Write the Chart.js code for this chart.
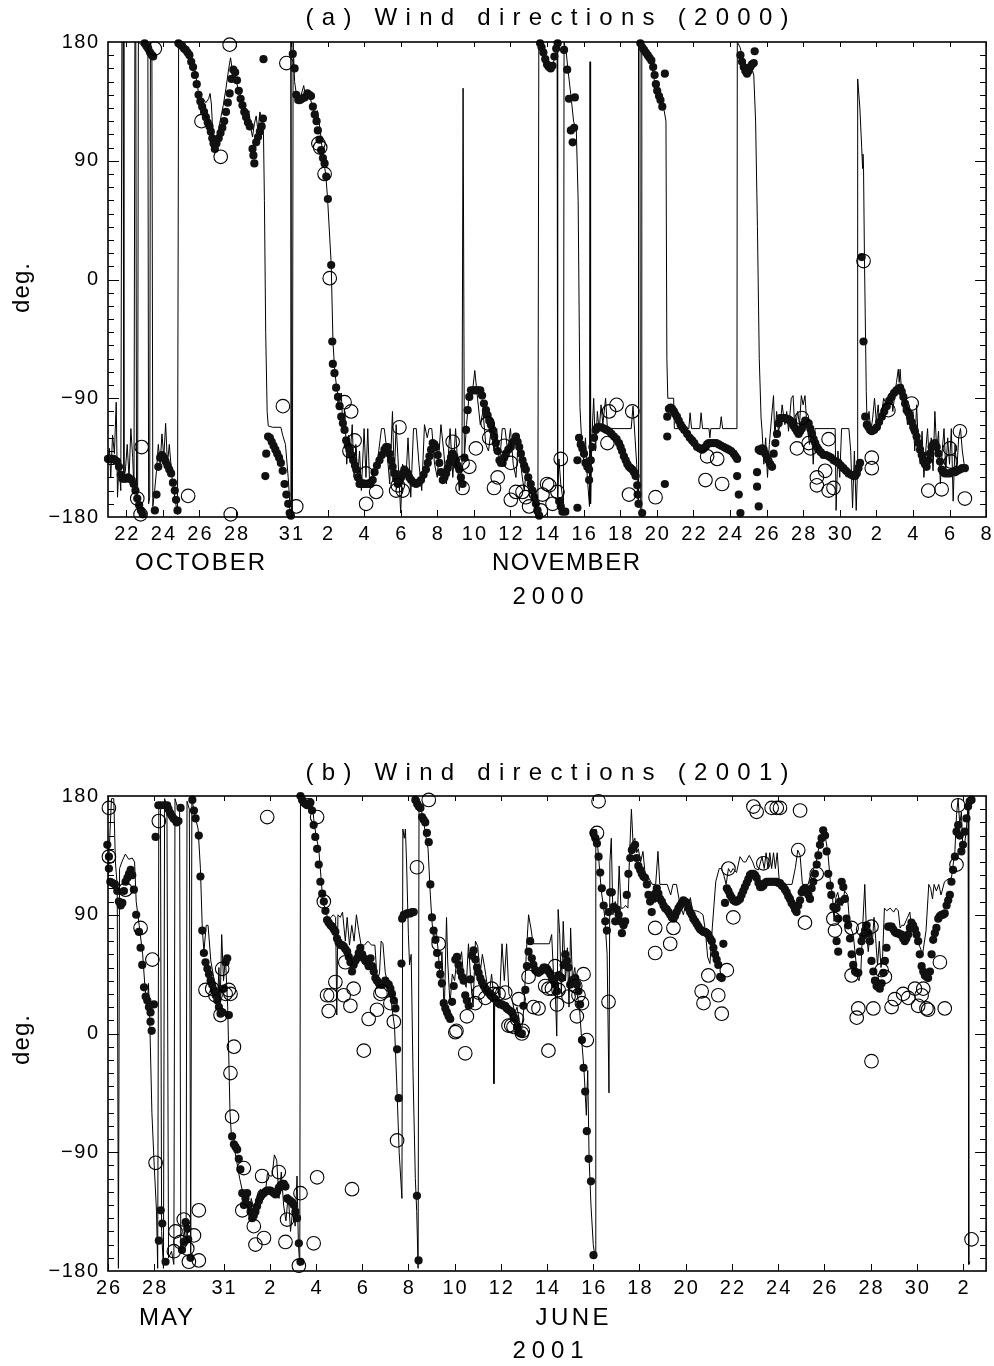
<!DOCTYPE html>
<html>
<head>
<meta charset="utf-8">
<title>Wind directions</title>
<script src="https://cdn.jsdelivr.net/npm/chart.js@4.4.0/dist/chart.umd.min.js"></script>
<style>
    html, body { margin: 0; padding: 0; background: #fff; overflow: hidden; }
    .panel { position: absolute; left: 0; width: 994px; height: 683px; }
</style>
</head>
<body>
<div class="panel" style="top:0"><canvas id="chartA"></canvas></div>
<div class="panel" style="top:683px"><canvas id="chartB"></canvas></div>
<script>
// x values are day numbers counted from the 1st of the first month shown
// (panel a: Oct 1 = 1, so Nov 2 = 33, Dec 2 = 63; panel b: May 1 = 1, June 2 = 33, July 2 = 63)
const yTicks = [-180, -90, 0, 90, 180];

const ticksA = [22, 24, 26, 28, 31, 33, 35, 37, 39, 41, 43, 45, 47, 49, 51, 53, 55, 57, 59, 61, 63, 65, 67, 69];
const tickLabelsA = ['22', '24', '26', '28', '31', '2', '4', '6', '8', '10', '12', '14', '16', '18', '20', '22', '24', '26', '28', '30', '2', '4', '6', '8'];

const ticksB = [26, 28, 31, 33, 35, 37, 39, 41, 43, 45, 47, 49, 51, 53, 55, 57, 59, 61, 63];
const tickLabelsB = ['26', '28', '31', '2', '4', '6', '8', '10', '12', '14', '16', '18', '20', '22', '24', '26', '28', '30', '2'];

// (a) 2000 : thin line
const lineA = [
    [21.0,-140],[21.08,-128],[21.15,-150],[21.25,-118],[21.35,-132],[21.45,-93],[21.52,-165],[21.6,-140],[21.7,-160],[21.76,180],[21.82,180],[21.87,-150],
    [21.95,-145],[22.05,-125],[22.15,-150],[22.25,-113],[22.35,-135],[22.42,-160],[22.47,180],[22.52,180],[22.56,-165],[22.62,-172],[22.66,180],[22.8,178],
    [22.95,176],[23.1,172],[23.18,170],[23.22,-170],[23.28,-165],[23.32,180],[23.4,172],[23.45,-172],[23.55,-160],[23.65,-145],[23.75,-125],[23.85,-140],
    [23.95,-117],[24.05,-135],[24.15,-109],[24.25,-140],[24.35,-125],[24.5,-150],[24.65,-165],[24.8,-178],[24.86,180],[25.0,178],[25.2,176],[25.35,173],
    [25.5,165],[25.6,159],[25.7,164],[25.85,150],[26.0,137],[26.2,137],[26.35,134],[26.5,137],[26.58,141],[26.65,133],[26.75,105],[26.85,100],[26.95,105],
    [27.1,118],[27.3,132],[27.45,145],[27.6,160],[27.7,168],[27.8,158],[27.95,155],[28.1,145],[28.25,140],[28.4,125],[28.5,132],[28.6,118],[28.7,128],
    [28.8,115],[28.9,108],[29.0,118],[29.1,124],[29.2,112],[29.3,127],[29.42,122],[29.5,110],[29.55,60],[29.62,-40],[29.7,-100],[29.76,-111],[30.0,-112],
    [30.45,-112],[30.55,-118],[30.7,-125],[30.85,-150],[30.95,-172],[31.0,180],[31.03,-176],[31.08,-178],[31.12,180],[31.2,150],[31.3,140],[31.5,137],
    [31.7,147],[31.8,138],[31.9,142],[32.0,140],[32.2,130],[32.3,126],[32.45,128],[32.6,113],[32.75,93],[32.9,80],[33.0,62],[33.2,12],[33.3,-48],[33.4,-70],
    [33.5,-82],[33.65,-95],[33.75,-86],[33.85,-115],[33.95,-100],[34.05,-140],[34.15,-118],[34.25,-130],[34.35,-110],[34.45,-150],[34.55,-125],[34.65,-150],
    [34.75,-130],[34.85,-160],[35.0,-113],[35.1,-150],[35.2,-113],[35.3,-155],[35.5,-150],[35.7,-140],[35.8,-130],[35.95,-113],[36.1,-113],[36.25,-130],
    [36.4,-155],[36.55,-100],[36.65,-150],[36.75,-110],[36.85,-135],[37.0,-177],[37.1,-140],[37.3,-147],[37.4,-120],[37.55,-165],[37.7,-113],[37.85,-113],
    [38.0,-140],[38.15,-160],[38.3,-110],[38.45,-120],[38.55,-113],[38.7,-113],[38.85,-140],[39.0,-150],[39.2,-110],[39.35,-130],[39.5,-155],[39.7,-113],
    [39.85,-150],[40.0,-113],[40.2,-160],[40.35,-140],[40.41,145],[40.44,145],[40.48,-135],[40.6,-110],[40.75,-86],[40.9,-88],[41.05,-69],[41.2,-90],
    [41.35,-110],[41.5,-100],[41.65,-125],[41.8,-130],[41.95,-113],[42.1,-130],[42.25,-113],[42.4,-140],[42.55,-113],[42.7,-113],[42.85,-130],[43.0,-113],
    [43.15,-140],[43.3,-150],[43.45,-118],[43.6,-145],[43.75,-160],[43.9,-140],[44.05,-165],[44.2,-165],[44.35,-170],[44.5,-175],[44.55,180],[44.65,176],
    [44.75,170],[44.9,160],[45.1,160],[45.3,160],[45.45,172],[45.55,178],[45.58,-165],[45.65,-136],[45.75,-155],[45.85,-165],[45.9,-172],[45.93,180],
    [46.05,172],[46.15,158],[46.3,140],[46.45,120],[46.6,113],[46.7,60],[46.8,-97],[46.9,-125],[47.0,-137],[47.1,-120],[47.2,-150],[47.32,-172],[47.35,165],
    [47.38,-170],[47.45,-120],[47.55,-90],[47.65,-130],[47.75,-100],[47.85,-115],[47.95,-95],[48.05,-110],[48.2,-90],[48.3,-113],[49.6,-113],[49.7,-96],
    [49.8,-118],[49.9,-140],[49.98,-170],[50.0,180],[50.08,178],[50.1,-178],[50.15,-176],[50.18,180],[50.3,174],[50.5,170],[50.7,164],[50.85,152],[51.0,143],
    [51.2,135],[51.4,128],[51.5,120],[51.55,-60],[51.6,-90],[51.92,-90],[51.96,-113],[52.75,-113],[52.82,-101],[52.9,-113],[53.35,-113],[53.42,-101],
    [53.5,-113],[53.85,-113],[53.9,-120],[53.95,-113],[54.45,-113],[54.52,-104],[54.6,-113],[55.38,-113],[55.4,180],[55.55,176],[55.7,168],[55.85,163],
    [56.0,162],[56.2,160],[56.3,155],[56.4,120],[56.5,40],[56.6,-60],[56.7,-105],[56.75,-114],[56.85,-140],[56.95,-120],[57.05,-150],[57.15,-125],[57.3,-100],
    [57.38,-88],[57.45,-120],[57.55,-100],[57.65,-115],[57.75,-110],[57.85,-95],[58.0,-110],[58.1,-100],[58.2,-115],[58.35,-90],[58.45,-88],[58.55,-115],
    [58.7,-100],[58.8,-110],[58.9,-88],[59.0,-95],[59.1,-88],[59.2,-110],[59.35,-125],[59.45,-110],[59.55,-140],[59.65,-113],[60.75,-113],[60.8,-175],
    [60.9,-130],[61.0,-150],[61.1,-113],[61.5,-113],[61.6,-130],[61.7,-173],[61.8,-130],[61.9,-175],[61.96,-150],[61.98,152],[62.1,130],[62.2,100],
    [62.25,84],[62.27,95],[62.3,84],[62.35,17],[62.45,-85],[62.5,-113],[62.6,-100],[62.7,-115],[62.8,-105],[62.9,-90],[63.0,-108],[63.1,-95],[63.2,-113],
    [63.3,-100],[63.4,-90],[63.55,-95],[63.65,-88],[63.8,-85],[63.9,-100],[64.0,-88],[64.1,-78],[64.2,-68],[64.25,-78],[64.3,-68],[64.4,-90],[64.5,-100],
    [64.6,-95],[64.7,-110],[64.8,-95],[64.9,-115],[65.0,-100],[65.1,-130],[65.2,-95],[65.3,-125],[65.4,-140],[65.5,-115],[65.6,-150],[65.7,-130],[65.8,-113],
    [65.9,-140],[66.0,-120],[66.1,-145],[66.2,-100],[66.3,-130],[66.4,-115],[66.5,-155],[66.6,-130],[66.7,-113],[66.8,-145],[66.9,-120],[67.0,-140],
    [67.1,-113],[67.2,-168],[67.3,-125],[67.4,-145],[67.5,-120],[67.6,-113],[67.7,-130],[67.8,-140]
];

// (a) 2000 : filled dots
const dotsA = [
    [21.0,-136],[21.1,-136],[21.2,-136],[21.3,-136],[21.4,-137],[21.5,-138],[21.6,-142],[21.7,-148],[21.8,-151],[21.9,-151],[22.0,-151],[22.1,-150],
    [22.2,-151],[22.3,-152],[22.4,-155],[22.5,-160],[22.6,-166],[22.7,-171],[22.8,-175],[22.9,-178],
    [23.0,179],[23.1,177],[23.2,175],[23.3,172],[23.4,170],[23.47,169],
    [23.56,-175],[23.65,-163],[23.75,-142],[23.85,-135],[23.95,-133],[24.05,-135],[24.15,-138],[24.25,-141],[24.35,-144],[24.45,-147],[24.55,-154],
    [24.65,-160],[24.72,-167],[24.8,-175],
    [24.85,179],[24.95,178],[25.05,177],[25.15,175],[25.25,174],[25.35,172],[25.45,170],[25.55,165],[25.65,161],[25.75,155],[25.85,148],[25.95,140],
    [26.05,135],[26.15,131],[26.25,127],[26.35,123],[26.45,119],[26.55,116],[26.62,112],[26.7,107],[26.77,103],[26.84,99],[26.93,103],[27.05,107],
    [27.15,111],[27.25,115],[27.35,120],[27.45,127],[27.55,134],[27.65,141],[27.75,152],[27.85,159],[27.95,157],[28.05,151],[28.15,143],[28.25,137],
    [28.35,132],[28.45,127],[28.55,123],[28.65,119],[28.75,116],[28.9,99],[28.95,94],[29.0,88],[29.1,104],[29.2,108],[29.3,112],[29.4,116],[29.47,122],
    [29.5,167],
    [29.6,-149],[29.65,-132],[29.75,-119],[29.85,-120],[29.95,-123],[30.05,-126],[30.15,-129],[30.25,-132],[30.35,-135],[30.45,-139],[30.55,-145],
    [30.65,-155],[30.75,-163],[30.85,-170],[30.93,-177],[31.0,-179],
    [31.1,171],[31.2,160],[31.29,140],[31.4,136],[31.5,136],[31.6,137],[31.75,138],[31.9,141],[32.0,140],[32.1,139],[32.2,131],[32.3,125],[32.4,120],
    [32.47,113],[32.56,106],[32.65,98],[32.75,92],[32.84,88],[32.93,78],[33.02,61],[33.2,11],[33.26,-47],[33.29,-64],[33.38,-71],[33.47,-82],[33.57,-89],
    [33.66,-96],[33.75,-104],[33.84,-109],[33.93,-114],[34.02,-122],[34.11,-126],[34.2,-129],[34.3,-133],[34.4,-137],[34.5,-141],[34.57,-144],[34.66,-150],
    [34.75,-155],[34.85,-155],[34.95,-155],[35.05,-155],[35.15,-155],[35.25,-155],[35.35,-155],[35.47,-152],[35.57,-146],[35.7,-141],[35.84,-137],
    [35.97,-133],[36.11,-129],[36.2,-127],[36.29,-127],[36.38,-132],[36.47,-137],[36.56,-142],[36.66,-147],[36.75,-151],[36.84,-155],[36.93,-153],
    [37.02,-150],[37.11,-147],[37.2,-144],[37.3,-146],[37.38,-147],[37.47,-150],[37.57,-152],[37.7,-154],[37.84,-155],[37.97,-154],[38.11,-152],
    [38.25,-148],[38.38,-144],[38.48,-139],[38.57,-134],[38.66,-129],[38.75,-124],[38.84,-125],[38.93,-127],[39.02,-133],[39.11,-139],[39.2,-146],
    [39.3,-152],[39.39,-150],[39.48,-147],[39.57,-143],[39.66,-139],[39.75,-135],[39.84,-132],[39.93,-134],[40.02,-137],[40.11,-141],[40.2,-144],
    [40.29,-150],[40.38,-155],[40.48,-135],[40.57,-114],[40.66,-99],[40.75,-89],[40.84,-84],[40.95,-84],[41.05,-84],[41.15,-84],[41.25,-84],[41.35,-84],
    [41.45,-88],[41.55,-94],[41.66,-99],[41.75,-103],[41.84,-107],[41.93,-110],[42.02,-114],[42.11,-119],[42.2,-124],[42.3,-130],[42.4,-137],[42.48,-139],
    [42.57,-139],[42.66,-135],[42.75,-132],[42.88,-129],[43.02,-127],[43.15,-123],[43.3,-119],[43.39,-123],[43.48,-127],[43.57,-132],[43.66,-137],
    [43.75,-141],[43.84,-144],[43.97,-150],[44.11,-155],[44.2,-160],[44.3,-165],[44.39,-170],[44.48,-175],[44.57,-179],
    [44.62,179],[44.7,176],[44.8,172],[44.9,167],[45.0,163],[45.1,161],[45.2,160],[45.3,162],[45.4,169],[45.5,175],[45.58,179],
    [45.66,-168],[45.75,-172],[45.84,-176],[46.0,-176],
    [45.93,174],[46.1,159],[46.2,137],[46.3,113],[46.4,104],[46.48,115],[46.52,138],
    [46.66,-173],[46.66,-137],[46.75,-120],[46.84,-125],[46.93,-128],[47.02,-132],[47.1,-139],[47.2,-142],[47.3,-144],[47.3,-152],[47.39,-137],[47.48,-127],
    [47.57,-120],[47.66,-114],[47.75,-112],[47.84,-112],[47.97,-112],[48.11,-113],[48.25,-114],[48.39,-115],[48.52,-117],[48.66,-119],[48.8,-121],
    [48.93,-124],[49.02,-127],[49.1,-130],[49.2,-134],[49.3,-137],[49.39,-140],[49.48,-142],[49.57,-143],[49.66,-144],[49.75,-146],[49.84,-149],
    [49.93,-156],[49.95,-163],[50.0,-170],[50.2,-177],
    [50.1,179],[50.2,176],[50.3,174],[50.4,172],[50.5,170],[50.6,168],[50.7,166],[50.8,161],[50.88,155],[50.95,148],[51.02,143],[51.12,139],[51.2,136],
    [51.3,131],[51.44,156],
    [51.44,-155],[51.57,-119],[51.57,-104],[51.66,-98],[51.75,-97],[51.84,-98],[51.93,-100],[52.0,-102],[52.1,-104],[52.2,-107],[52.3,-110],[52.39,-112],
    [52.5,-114],[52.66,-117],[52.8,-120],[52.93,-122],[53.05,-124],[53.2,-127],[53.35,-128],[53.48,-129],[53.57,-128],[53.66,-127],[53.75,-125],
    [53.84,-124],[53.97,-124],[54.11,-124],[54.25,-124],[54.39,-125],[54.52,-126],[54.66,-127],[54.8,-128],[54.93,-129],[55.06,-130],[55.2,-132],
    [55.3,-134],[55.39,-136],[55.39,-149],[55.48,-163],[55.57,-177],
    [55.57,170],[55.66,165],[55.75,161],[55.84,158],[55.93,156],[56.02,158],[56.11,161],[56.2,163],[56.3,164],[56.35,173],
    [56.48,-146],[56.48,-157],[56.57,-172],[56.57,-129],[56.66,-130],[56.75,-128],[56.84,-129],[56.93,-132],[57.02,-135],[57.1,-137],[57.2,-140],
    [57.3,-142],[57.39,-132],[57.48,-124],[57.57,-117],[57.66,-109],[57.75,-105],[57.84,-105],[57.93,-105],[58.02,-105],[58.11,-106],[58.2,-106],
    [58.3,-107],[58.39,-109],[58.48,-111],[58.57,-113],[58.66,-115],[58.75,-117],[58.84,-115],[58.93,-113],[59.02,-110],[59.11,-107],[59.2,-108],
    [59.3,-109],[59.39,-113],[59.48,-117],[59.57,-121],[59.66,-124],[59.75,-127],[59.84,-129],[59.97,-131],[60.11,-133],[60.25,-133],[60.39,-134],
    [60.52,-135],[60.66,-137],[60.8,-138],[60.93,-139],[61.06,-141],[61.2,-143],[61.34,-145],[61.48,-147],[61.62,-148],[61.75,-149],[61.84,-149],
    [61.93,-147],[62.02,-143],[62.11,-139],
    [62.2,17],[62.3,-47],[62.39,-104],[62.48,-110],[62.57,-112],[62.66,-114],[62.75,-115],[62.88,-114],[63.02,-112],[63.15,-108],[63.3,-104],[63.43,-100],
    [63.57,-96],[63.7,-92],[63.84,-89],[63.97,-86],[64.1,-84],[64.2,-83],[64.3,-82],[64.39,-85],[64.48,-89],[64.57,-94],[64.66,-99],[64.75,-101],
    [64.84,-104],[64.93,-108],[65.02,-112],[65.11,-115],[65.2,-119],[65.3,-124],[65.39,-129],[65.48,-133],[65.57,-137],[65.66,-140],[65.75,-142],
    [65.84,-137],[65.93,-132],[66.02,-127],[66.11,-125],[66.2,-124],[66.3,-127],[66.39,-132],[66.48,-138],[66.57,-144],[66.66,-146],[66.75,-147],
    [66.88,-147],[67.02,-147],[67.16,-146],[67.3,-146],[67.43,-145],[67.57,-144],[67.7,-143],[67.84,-143]
];

// (a) 2000 : open circles
const circlesA = [
    [22.6,-166],[22.78,-178],[22.84,-127],[23.56,175],[25.38,-164],[26.11,120],[27.16,93],[27.65,178],[27.71,-178],[30.56,-96],[30.75,164],[31.29,-172],
    [32.5,103],[32.6,100],[32.84,80],[33.12,1],[33.93,-93],[34.29,-100],[34.48,-122],[34.2,-130],[35.1,-147],[35.11,-170],[35.66,-161],[36.75,-160],
    [36.84,-156],[36.93,-112],[37.11,-160],[39.84,-123],[40.38,-139],[40.38,-158],[40.75,-142],[41.11,-128],[41.75,-109],[41.84,-120],[42.1,-158],
    [42.3,-150],[42.66,-126],[43.02,-139],[43.02,-167],[43.3,-161],[43.66,-161],[43.84,-165],[44.02,-172],[44.66,-175],[44.75,-163],[45.0,-155],
    [45.12,-156],[45.3,-170],[45.57,-161],[45.75,-136],[48.3,-124],[48.39,-100],[48.8,-95],[49.48,-163],[49.66,-100],[50.93,-165],[53.66,-152],
    [53.75,-134],[54.3,-136],[54.57,-155],[58.66,-128],[58.93,-105],[59.3,-124],[59.4,-128],[59.75,-150],[59.75,-156],[60.2,-145],[60.39,-160],
    [60.39,-121],[60.66,-158],[62.3,14],[62.75,-135],[62.75,-143],[63.66,-99],[64.93,-94],[65.84,-160],[66.57,-159],[67.02,-128],[67.07,-138],
    [67.57,-115],[67.84,-166]
];

// (b) 2001 : thin line
const lineB = [
    [26.0,118],[26.08,150],[26.15,178],[26.25,178],[26.32,130],[26.4,112],[26.45,-178],[26.5,125],[26.6,130],[26.75,136],[26.9,132],[27.05,133],
    [27.15,130],[27.22,100],[27.35,82],[27.5,60],[27.6,35],[27.7,20],[27.75,38],[27.8,15],[27.9,-60],[28.0,-100],[28.1,-135],[28.15,-178],[28.2,175],
    [28.27,170],[28.32,-150],[28.4,-178],[28.45,178],[28.55,172],[28.62,-170],[28.75,-165],[28.85,-175],[28.9,178],[29.0,172],[29.1,168],[29.15,-165],
    [29.3,-150],[29.38,-160],[29.42,176],[29.52,170],[29.58,-170],[29.63,178],[29.75,166],[29.9,155],[30.0,125],[30.08,80],[30.15,62],[30.25,82],
    [30.33,82],[30.45,55],[30.55,45],[30.65,35],[30.75,28],[30.8,50],[30.85,20],[30.92,75],[31.0,40],[31.08,58],[31.18,20],[31.28,-60],[31.35,-80],
    [31.42,-75],[31.5,-90],[31.6,-100],[31.7,-110],[31.8,-118],[31.9,-130],[32.0,-120],[32.1,-138],[32.2,-125],[32.3,-133],[32.4,-128],[32.5,-120],
    [32.6,-118],[32.7,-126],[32.8,-123],[32.9,-106],[33.0,-108],[33.1,-108],[33.2,-92],[33.3,-96],[33.4,-125],[33.5,-105],[33.6,-130],[33.7,-142],
    [33.8,-122],[33.9,-150],[34.0,-132],[34.1,-146],[34.18,-108],[34.24,-160],[34.3,-176],[34.33,180],[34.5,178],[34.7,178],[34.83,178],[34.9,163],
    [35.0,150],[35.12,140],[35.3,100],[35.42,93],[35.55,85],[35.65,88],[35.75,90],[35.85,88],[35.9,14],[35.95,90],[36.05,88],[36.15,92],[36.27,70],
    [36.35,88],[36.45,67],[36.55,82],[36.65,70],[36.75,90],[36.85,78],[36.95,67],[37.1,67],[37.25,70],[37.4,67],[37.55,67],[37.65,40],[37.75,46],
    [37.82,70],[37.9,68],[38.0,46],[38.1,38],[38.2,35],[38.3,18],[38.4,5],[38.5,-40],[38.6,-90],[38.72,-125],[38.76,155],[38.82,148],[38.87,155],
    [38.92,130],[39.0,75],[39.05,52],[39.12,60],[39.2,-30],[39.3,-110],[39.36,-135],[39.42,-178],[39.46,178],[39.55,170],[39.65,162],[39.75,150],
    [39.85,140],[39.95,105],[40.02,85],[40.1,70],[40.2,80],[40.3,60],[40.4,35],[40.45,62],[40.55,15],[40.65,88],[40.7,55],[40.8,22],[40.9,45],[41.0,40],
    [41.1,58],[41.2,52],[41.3,62],[41.4,40],[41.5,35],[41.6,68],[41.7,40],[41.8,20],[41.9,70],[42.0,66],[42.1,45],[42.2,60],[42.3,50],[42.4,38],[42.5,30],
    [42.6,45],[42.68,30],[42.7,-38],[42.74,30],[42.85,35],[42.95,28],[43.05,68],[43.15,40],[43.25,68],[43.35,30],[43.5,25],[43.6,15],[43.7,20],[43.8,10],
    [43.9,2],[44.0,20],[44.1,60],[44.2,90],[44.3,80],[44.4,68],[45.1,68],[45.2,75],[45.28,45],[45.35,35],[45.42,-2],[45.48,94],[45.55,75],[45.62,30],
    [45.7,85],[45.8,40],[45.88,65],[45.95,20],[46.02,80],[46.1,40],[46.2,50],[46.3,30],[46.4,20],[46.5,-5],[46.6,-28],[46.7,-62],[46.76,-28],[46.82,-95],
    [46.9,-130],[47.0,-160],[47.08,-170],[47.11,155],[47.2,140],[47.35,108],[47.5,88],[47.6,60],[47.68,-45],[47.72,130],[47.78,148],[47.85,90],[47.95,100],
    [48.05,92],[48.12,127],[48.2,95],[48.3,95],[48.4,97],[48.5,95],[48.57,135],[48.65,170],[48.72,145],[48.8,148],[48.88,137],[48.95,140],[49.05,130],
    [49.15,138],[49.25,120],[49.4,118],[49.55,113],[49.7,113],[49.8,138],[49.88,113],[50.2,113],[50.35,105],[50.45,113],[50.6,113],[50.75,98],[50.9,90],
    [51.0,98],[51.1,95],[51.2,103],[51.3,93],[51.45,93],[51.6,92],[51.75,90],[51.85,78],[51.95,58],[52.05,53],[52.15,80],[52.3,115],[52.45,125],
    [52.55,125],[52.65,120],[52.75,113],[52.85,125],[52.95,122],[53.05,125],[53.2,122],[53.35,134],[53.5,130],[53.6,130],[53.75,135],[53.9,130],[54.0,125],
    [54.15,124],[54.3,134],[54.4,125],[54.48,137],[54.56,125],[54.64,137],[54.72,125],[54.8,137],[54.88,125],[54.96,137],[55.05,115],[55.2,113],
    [55.4,113],[55.6,113],[55.75,126],[55.85,139],[55.95,135],[56.05,113],[56.3,113],[56.4,120],[56.55,125],[56.65,130],[56.75,140],[56.85,148],
    [56.95,150],[57.05,148],[57.15,138],[57.25,117],[57.35,105],[57.42,85],[57.5,103],[57.58,107],[57.68,98],[57.78,97],[57.88,108],[58.0,105],[58.1,82],
    [58.25,75],[58.35,58],[58.42,43],[58.5,40],[58.58,47],[58.65,78],[58.75,113],[58.82,78],[58.9,62],[59.0,78],[59.08,70],[59.15,88],[59.22,72],
    [59.3,52],[59.38,70],[59.45,50],[59.52,58],[59.6,95],[59.7,93],[59.85,95],[60.0,92],[60.1,95],[60.2,93],[60.28,80],[60.35,82],[60.45,82],[60.6,88],
    [60.7,92],[60.75,83],[60.85,77],[61.0,72],[61.15,65],[61.25,60],[61.4,78],[61.52,113],[61.6,110],[61.68,102],[61.75,113],[61.85,108],[61.95,113],
    [62.05,105],[62.2,115],[62.35,117],[62.5,118],[62.65,138],[62.72,166],[62.79,178],[62.86,158],[62.93,168],[63.0,138],[63.08,145],[63.15,155],
    [63.22,174],[63.25,-175],[63.3,-173]
];

// (b) 2001 : filled dots
const dotsB = [
    [25.97,143],[26.04,134],[26.04,125],[26.1,115],[26.2,114],[26.3,113],[26.4,108],[26.47,100],[26.55,97],[26.62,99],[26.69,108],[26.76,115],[26.84,118],
    [26.91,121],[26.98,124],[27.05,120],[27.12,109],[27.22,90],[27.34,77],[27.41,65],[27.48,52],[27.56,35],[27.63,28],[27.7,25],[27.77,20],[27.84,16],
    [27.84,9],[27.89,2],[27.99,22],
    [28.06,149],[28.18,173],[28.3,173],[28.45,173],[28.56,173],[28.62,170],[28.69,167],[28.76,165],[28.83,163],[28.9,162],[28.97,160],[29.05,161],[29.14,171],
    [28.2,-157],[28.28,-134],[28.35,-144],[28.49,-173],
    [29.2,-164],[29.28,-158],[29.36,-143],[29.43,-148],[29.47,-156],[29.57,-170],
    [29.65,177],[29.72,169],[29.79,163],[29.93,150],[30.0,119],[30.08,78],[30.15,61],[30.22,54],[30.3,49],[30.37,45],[30.44,40],[30.51,37],[30.58,33],
    [30.66,29],[30.73,25],[30.8,20],[30.87,15],[30.94,16],[31.01,34],[31.09,54],[31.16,57],[31.23,14],
    [31.37,-78],[31.45,-84],[31.52,-86],[31.59,-88],[31.66,-95],[31.73,-103],[31.81,-121],[31.88,-130],[31.95,-125],[32.02,-121],[32.1,-130],[32.17,-135],
    [32.24,-140],[32.31,-138],[32.38,-135],[32.45,-131],[32.53,-127],[32.6,-124],[32.67,-122],[32.74,-121],[32.81,-120],[32.88,-119],[32.96,-119],
    [33.03,-119],[33.1,-120],[33.18,-121],[33.25,-122],[33.32,-120],[33.39,-117],[33.47,-115],[33.54,-114],[33.61,-114],[33.68,-116],[33.75,-125],
    [33.83,-126],[33.9,-127],[33.97,-128],[34.04,-130],[34.11,-135],[34.18,-140],[34.26,-159],[34.33,-173],
    [34.33,180],[34.4,177],[34.47,175],[34.55,174],[34.62,173],[34.69,174],[34.76,175],[34.83,169],[34.9,158],[34.97,149],[35.05,140],[35.12,128],
    [35.19,115],[35.27,106],[35.34,100],[35.41,93],[35.48,86],[35.55,84],[35.63,82],[35.7,81],[35.77,79],[35.84,77],[35.91,72],[35.98,69],[36.06,67],
    [36.13,67],[36.2,66],[36.27,64],[36.35,62],[36.42,58],[36.49,54],[36.56,47],[36.63,52],[36.7,55],[36.78,57],[36.85,61],[36.92,65],[37.0,60],
    [37.07,57],[37.14,55],[37.21,54],[37.28,51],[37.36,57],[37.43,51],[37.5,47],[37.57,42],[37.64,40],[37.72,38],[37.79,37],[37.86,37],[37.93,38],
    [38.0,40],[38.07,38],[38.15,37],[38.22,34],[38.29,30],[38.37,25],[38.44,19],[38.51,-12],[38.58,-49],[38.7,53],[38.73,87],[38.8,90],[38.87,90],
    [38.94,91],[39.01,91],[39.08,91],[39.16,92],[39.23,92],
    [39.37,-123],[39.44,-172],
    [39.3,177],[39.38,174],[39.45,172],[39.52,171],[39.59,164],[39.66,162],[39.73,160],[39.8,152],[39.88,145],[39.95,113],[40.02,88],[40.09,78],[40.17,71],
    [40.24,61],[40.31,52],[40.38,45],[40.45,38],[40.53,23],[40.6,19],[40.67,16],[40.74,13],[40.81,11],[40.89,24],[40.96,36],[41.03,56],[41.1,58],
    [41.17,52],[41.25,47],[41.32,43],[41.39,40],[41.46,29],[41.53,25],[41.61,21],[41.68,41],[41.75,59],[41.82,63],[41.9,56],[41.97,50],[42.04,46],
    [42.11,42],[42.18,39],[42.26,36],[42.33,34],[42.4,32],[42.47,31],[42.54,30],[42.61,29],[42.68,27],[42.76,26],[42.83,24],[42.9,23],[42.97,22],
    [43.05,22],[43.12,21],[43.19,21],[43.26,19],[43.33,18],[43.41,17],[43.48,16],[43.55,13],[43.62,11],[43.7,5],[43.77,1],[43.84,0],[43.91,0],[43.98,21],
    [44.06,33],[44.13,51],[44.2,62],[44.27,70],[44.34,57],[44.41,52],[44.49,48],[44.56,47],[44.63,46],[44.7,47],[44.78,48],[44.85,50],[44.92,50],
    [45.0,49],[45.07,47],[45.14,45],[45.21,42],[45.28,40],[45.35,37],[45.43,32],[45.5,44],[45.57,43],[45.64,42],[45.72,52],[45.79,60],[45.86,55],
    [45.93,50],[46.0,37],[46.07,40],[46.15,41],[46.22,42],[46.29,37],[46.36,32],[46.43,22],[46.51,-5],[46.58,-26],[46.65,-44],[46.72,-74],[46.8,-95],
    [46.9,-112],[47.01,-168],
    [47.01,152],[47.09,148],[47.16,144],[47.23,134],[47.3,122],[47.37,110],[47.45,97],[47.52,85],[47.59,78],[47.66,92],[47.73,107],[47.8,107],[47.88,96],
    [47.95,85],[48.02,94],[48.1,90],[48.17,85],[48.24,76],[48.31,82],[48.38,85],[48.45,105],[48.52,121],[48.6,133],[48.67,139],[48.74,141],[48.81,143],
    [48.88,133],[48.95,127],[49.03,124],[49.1,121],[49.17,119],[49.24,118],[49.32,113],[49.39,105],[49.46,100],[49.53,92],[49.6,102],[49.68,106],
    [49.75,110],[49.82,106],[49.89,102],[49.97,100],[50.04,97],[50.11,95],[50.18,94],[50.26,92],[50.33,90],[50.4,88],[50.47,87],[50.54,89],[50.61,92],
    [50.69,95],[50.76,97],[50.83,99],[50.9,101],[50.97,100],[51.05,99],[51.12,95],[51.19,92],[51.26,90],[51.33,87],[51.41,85],[51.48,83],[51.55,81],
    [51.62,79],[51.69,78],[51.77,77],[51.84,77],[51.91,76],[51.98,75],[52.06,72],[52.13,70],[52.2,65],[52.27,60],[52.34,56],[52.41,52],[52.49,43],
    [52.56,42],[52.63,68],[52.7,99],[52.78,110],[52.85,108],[52.92,105],[52.99,103],[53.06,101],[53.14,100],[53.21,100],[53.28,101],[53.35,102],
    [53.42,105],[53.49,108],[53.56,111],[53.64,114],[53.71,117],[53.78,120],[53.85,121],[53.93,121],[54.0,120],[54.07,118],[54.15,114],[54.22,111],
    [54.29,111],[54.36,112],[54.43,114],[54.5,115],[54.58,115],[54.65,115],[54.72,115],[54.8,115],[54.87,115],[54.94,115],[55.01,114],[55.08,114],
    [55.16,112],[55.23,111],[55.3,109],[55.37,107],[55.44,104],[55.51,102],[55.58,99],[55.66,97],[55.73,94],[55.8,92],[55.87,97],[55.95,101],[56.02,107],
    [56.09,109],[56.16,110],[56.24,107],[56.31,105],[56.38,102],[56.45,110],[56.52,115],[56.59,121],[56.67,128],[56.74,135],[56.81,143],[56.88,148],
    [56.95,154],[57.03,150],[57.1,138],[57.17,121],[57.24,112],[57.3,105],[57.39,96],[57.46,95],[57.53,95],[57.53,70],[57.6,62],[57.6,87],[57.68,100],
    [57.75,115],[57.82,111],[57.89,102],[57.96,87],[58.03,82],[58.11,72],[58.18,60],[58.25,52],[58.33,47],[58.4,46],[58.47,46],[58.54,62],[58.61,70],
    [58.68,74],[58.76,78],[58.83,82],[58.9,76],[58.97,70],[59.04,55],[59.12,47],[59.19,40],[59.26,36],[59.33,35],[59.4,34],[59.48,38],[59.55,46],
    [59.62,55],[59.69,65],[59.76,81],[59.84,81],[59.91,81],[59.98,79],[60.05,77],[60.12,76],[60.2,76],[60.27,75],[60.34,75],[60.41,72],[60.48,70],
    [60.55,72],[60.63,75],[60.7,80],[60.77,84],[60.84,82],[60.92,79],[60.99,75],[61.06,70],[61.13,60],[61.21,51],[61.28,47],[61.35,44],[61.42,43],
    [61.49,42],[61.57,47],[61.64,60],[61.71,71],[61.78,76],[61.85,80],[61.93,87],[62.0,89],[62.07,90],[62.14,90],[62.21,91],[62.29,97],[62.36,101],
    [62.43,105],[62.5,115],[62.57,124],[62.65,134],[62.72,153],[62.79,158],[62.86,150],[62.93,138],[63.0,143],[63.08,153],[63.15,163],[63.22,172],
    [63.29,176],[63.37,177]
];

// (b) 2001 : open circles
const circlesB = [
    [26.04,171],[26.04,134],[26.76,109],[27.41,80],[27.92,56],[28.06,-98],[28.2,161],[28.85,-165],[28.92,-150],[29.14,-158],[29.28,-141],[29.43,-163],
    [29.5,-173],[29.72,-153],[29.93,-172],[29.93,-134],[30.22,33],[30.51,34],[30.65,29],[30.87,14],[30.94,49],[31.09,30],[31.23,33],[31.3,30],[31.45,-10],
    [31.3,-30],[31.37,-63],[31.81,-134],[31.88,-102],[32.31,-146],[32.38,-160],[32.67,-108],[32.75,-155],[32.89,164],[33.39,-105],[33.68,-158],
    [33.75,-141],[34.26,-176],[34.33,-121],[34.9,-159],[35.05,164],[35.05,-109],[35.34,100],[35.48,29],[35.55,17],[35.63,29],[35.84,39],[36.2,29],
    [36.27,54],[36.49,21],[36.63,34],[36.56,-118],[37.07,-13],[37.28,11],[37.64,18],[37.79,30],[37.86,32],[38.22,23],[38.37,9],[38.51,-81],[39.37,126],
    [39.88,177],[40.31,68],[41.03,1],[41.08,2],[41.46,-15],[41.53,13],[41.89,23],[42.04,31],[42.33,27],[42.61,34],[42.68,30],[42.9,30],[43.19,31],
    [43.33,6],[43.45,6],[43.55,5],[43.7,11],[43.77,26],[43.91,0],[43.95,2],[44.2,43],[44.41,20],[44.63,19],[44.92,36],[45.06,34],[45.06,-13],[45.21,34],
    [45.35,51],[45.43,22],[45.5,33],[45.93,28],[46.22,36],[46.29,13],[46.36,29],[46.51,23],[46.58,45],[46.72,-5],[47.16,152],[47.23,176],[47.66,24],
    [49.68,80],[49.68,61],[50.33,68],[50.47,80],[51.69,32],[51.77,23],[51.98,44],[52.41,29],[52.56,15],[52.78,48],[52.85,125],[53.06,88],[53.93,172],
    [54.07,168],[54.36,129],[54.72,171],[54.94,171],[55.08,171],[55.87,139],[55.95,169],[56.16,84],[56.67,121],[57.39,87],[57.46,78],[58.18,44],
    [58.18,80],[58.4,12],[58.47,19],[58.68,79],[59.04,81],[59.04,-21],[59.12,19],[59.48,48],[59.62,43],[59.91,20],[60.05,26],[60.41,30],[60.63,27],
    [60.92,34],[61.06,21],[61.21,29],[61.28,34],[61.42,19],[61.49,18],[62.0,54],[62.21,19],[62.72,128],[62.79,173],[63.37,-156]
];

const FONT = '"Liberation Sans", "DejaVu Sans", Arial, sans-serif';

function toPoints(arr) {
    return arr.map(([x, y]) => ({ x: x, y: y }));
}

// draws text with extra letter spacing; align 'center' or 'right' against x
function spacedText(ctx, text, x, cy, gap, align) {
    ctx.letterSpacing = '0px';
    const natural = ctx.measureText(text).width;
    const n = [...text].length;
    const width = natural + gap * (n - 1);
    const left = align === 'right' ? x - width : x - width / 2;
    ctx.textAlign = 'left';
    ctx.textBaseline = 'middle';
    if ('letterSpacing' in ctx) {
        ctx.letterSpacing = gap + 'px';
        ctx.fillText(text, left, cy);
        ctx.letterSpacing = '0px';
    } else {
        ctx.fillText(text, left, cy);
    }
}

// same, but spread to a given total width
function spreadText(ctx, text, cx, cy, width) {
    ctx.letterSpacing = '0px';
    const natural = ctx.measureText(text).width;
    const n = [...text].length;
    const gap = n > 1 ? Math.max(0, (width - natural) / (n - 1)) : 0;
    spacedText(ctx, text, cx, cy, gap, 'center');
}

const decorPlugin = {
    id: 'decor',
    afterDatasetsDraw(chart, args, opts) {
        const ctx = chart.ctx;
        const a = chart.chartArea;
        const x = chart.scales.x;
        const y = chart.scales.y;

        ctx.save();
        ctx.strokeStyle = '#000';
        ctx.fillStyle = '#000';

        // frame
        ctx.lineWidth = 1.6;
        ctx.strokeRect(a.left, a.top, a.right - a.left, a.bottom - a.top);

        // inward ticks
        ctx.lineWidth = 1;
        ctx.beginPath();
        for (let v = -170; v <= 170; v += 10) {
            const py = Math.round(y.getPixelForValue(v)) + 0.5;
            const len = v % 90 === 0 ? 11 : 6;
            ctx.moveTo(a.left, py);
            ctx.lineTo(a.left + len, py);
            ctx.moveTo(a.right, py);
            ctx.lineTo(a.right - len, py);
        }
        opts.ticks.forEach(d => {
            const px = Math.round(x.getPixelForValue(d)) + 0.5;
            ctx.moveTo(px, a.bottom);
            ctx.lineTo(px, a.bottom - 7);
            ctx.moveTo(px, a.top);
            ctx.lineTo(px, a.top + 5);
        });
        ctx.stroke();

        // y tick labels
        ctx.font = '20px ' + FONT;
        yTicks.forEach(v => {
            const label = v < 0 ? '\u2212' + Math.abs(v) : String(v);
            spacedText(ctx, label, a.left - 10, y.getPixelForValue(v), 1.5, 'right');
        });

        // x tick labels
        ctx.font = '20px ' + FONT;
        opts.ticks.forEach((d, i) => {
            spacedText(ctx, opts.labels[i], x.getPixelForValue(d), a.bottom + 17, 2, 'center');
        });

        // title
        ctx.font = '24px ' + FONT;
        spreadText(ctx, opts.title, 547, opts.titleY, 483);

        // axis name
        ctx.save();
        ctx.translate(22, opts.degY);
        ctx.rotate(-Math.PI / 2);
        ctx.font = '24px ' + FONT;
        spreadText(ctx, 'deg.', 0, 0, 50);
        ctx.restore();

        // months and year
        ctx.font = '24px ' + FONT;
        opts.months.forEach(m => spreadText(ctx, m.text, m.cx, opts.monthY, m.w));
        spreadText(ctx, opts.year, 548, opts.yearY, 71);

        ctx.restore();
    }
};

function makeChart(id, cfg) {
    const ctx = document.getElementById(id).getContext('2d');
    return new Chart(ctx, {
        type: 'scatter',
        data: {
            datasets: [
                {
                    label: 'open circles',
                    data: toPoints(cfg.circles),
                    pointRadius: 6.8,
                    pointHoverRadius: 6.8,
                    pointBackgroundColor: 'rgba(0,0,0,0)',
                    pointBorderColor: '#000',
                    pointBorderWidth: 1.1,
                    showLine: false,
                    clip: false,
                    order: 1
                },
                {
                    label: 'filled dots',
                    data: toPoints(cfg.dots),
                    pointRadius: 4.1,
                    pointHoverRadius: 4.1,
                    pointBackgroundColor: '#111',
                    pointBorderColor: '#111',
                    pointBorderWidth: 0,
                    showLine: false,
                    clip: false,
                    order: 2
                },
                {
                    label: 'line',
                    data: toPoints(cfg.line),
                    showLine: true,
                    borderColor: '#000',
                    borderWidth: 1,
                    pointRadius: 0,
                    pointHoverRadius: 0,
                    fill: false,
                    tension: 0,
                    clip: 0,
                    order: 3
                }
            ]
        },
        options: {
            responsive: true,
            maintainAspectRatio: false,
            animation: false,
            events: [],
            layout: { padding: cfg.padding },
            plugins: {
                legend: { display: false },
                tooltip: { enabled: false },
                title: { display: false },
                decor: {
                    ticks: cfg.ticks,
                    labels: cfg.labels,
                    title: cfg.title,
                    titleY: cfg.titleY,
                    degY: cfg.degY,
                    months: cfg.months,
                    monthY: cfg.monthY,
                    year: cfg.year,
                    yearY: cfg.yearY
                }
            },
            scales: {
                x: { type: 'linear', min: cfg.xMin, max: cfg.xMax, display: false },
                y: { type: 'linear', min: -180, max: 180, display: false }
            }
        },
        plugins: [decorPlugin]
    });
}

makeChart('chartA', {
    line: lineA, dots: dotsA, circles: circlesA,
    ticks: ticksA, labels: tickLabelsA,
    xMin: 21, xMax: 69,
    padding: { left: 108, right: 6, top: 42, bottom: 166 },
    title: '(a) Wind directions (2000)', titleY: 18,
    degY: 288,
    months: [{ text: 'OCTOBER', cx: 200, w: 130 }, { text: 'NOVEMBER', cx: 566, w: 148 }],
    monthY: 563,
    year: '2000', yearY: 597
});

makeChart('chartB', {
    line: lineB, dots: dotsB, circles: circlesB,
    ticks: ticksB, labels: tickLabelsB,
    xMin: 26, xMax: 64,
    padding: { left: 108, right: 6, top: 113, bottom: 95 },
    title: '(b) Wind directions (2001)', titleY: 90,
    degY: 357,
    months: [{ text: 'MAY', cx: 166, w: 54 }, { text: 'JUNE', cx: 572, w: 73 }],
    monthY: 635,
    year: '2001', yearY: 668
});
</script>
</body>
</html>
